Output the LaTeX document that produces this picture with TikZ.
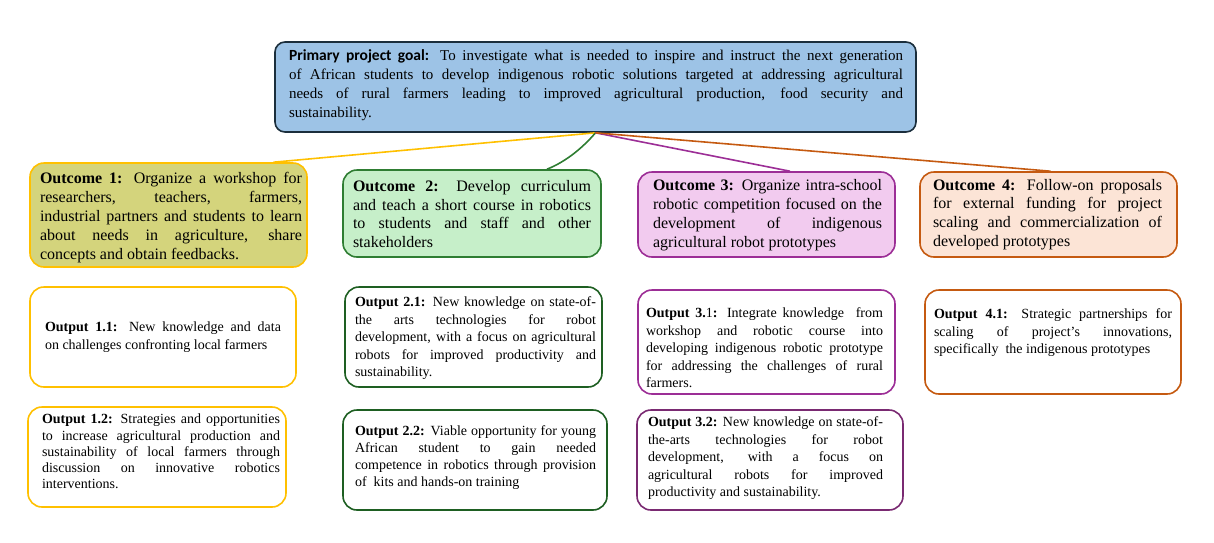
\documentclass[tikz,border=0pt]{standalone}
\usepackage{fontspec}
\setmainfont{Liberation Serif}
\newfontfamily\goalfont{Carlito}
\definecolor{goalfill}{HTML}{9DC3E6}
\definecolor{goaldraw}{HTML}{1B2E3C}
\definecolor{c1fill}{HTML}{D4D47C}
\definecolor{c1draw}{HTML}{FFC000}
\definecolor{c2fill}{HTML}{C6EFC9}
\definecolor{c2draw}{HTML}{2E7D32}
\definecolor{c2dark}{HTML}{1E5F22}
\definecolor{c3fill}{HTML}{F2CBEF}
\definecolor{c3draw}{HTML}{9C2E96}
\definecolor{c3dark}{HTML}{7A2A72}
\definecolor{c4fill}{HTML}{FCE4D6}
\definecolor{c4draw}{HTML}{C55A11}
\tikzset{
  boxshape/.style={draw, rounded corners=14pt, line width=1.6pt, inner sep=0pt},
  goaltxt/.style={inner sep=0pt, align=justify, font=\fontsize{15}{19}\selectfont},
  outctxt/.style={inner sep=0pt, align=justify, font=\fontsize{16}{18.8}\selectfont},
  outptxt/.style={inner sep=0pt, align=justify, font=\fontsize{14}{17.5}\selectfont},
  link/.style={line width=1.6pt}
}
\begin{document}
\begin{tikzpicture}[x=1pt,y=-1pt]
\useasboundingbox (0,0) rectangle (1214,542);
% goal
\node[boxshape, rounded corners=10pt, fill=goalfill, draw=goaldraw, minimum width=641pt, minimum height=90pt] (goal) at (595.5,87) {};
\node[goaltxt, text width=614pt] (goalt) at (596,85) {{\goalfont\bfseries\fontsize{15.5}{19}\selectfont Primary project goal:} To investigate what is needed to inspire and instruct the next generation\linebreak of African students to develop indigenous robotic solutions targeted at addressing agricultural\linebreak needs of rural farmers leading to improved agricultural production, food security and\linebreak sustainability.};
% outcomes
\node[boxshape, fill=c1fill, draw=c1draw, minimum width=277pt, minimum height=104pt] (oc1) at (168.5,215) {};
\node[outctxt, text width=262pt] (oc1t) at (171,217.5) {\textbf{Outcome 1:} Organize a workshop for\linebreak researchers, teachers, farmers,\linebreak industrial partners and students to learn\linebreak about needs in agriculture, share\linebreak concepts and obtain feedbacks.};
\node[boxshape, fill=c2fill, draw=c2draw, minimum width=258pt, minimum height=87pt] (oc2) at (472,213.5) {};
\node[outctxt, text width=238pt] (oc2t) at (472,214) {\textbf{Outcome 2:} Develop curriculum\linebreak and teach a short course in robotics\linebreak to students and staff and other\linebreak stakeholders};
\node[boxshape, fill=c3fill, draw=c3draw, minimum width=257pt, minimum height=85pt] (oc3) at (766.5,214.5) {};
\node[outctxt, text width=229pt] (oc3t) at (767.5,215) {\textbf{Outcome 3:} Organize intra-school\linebreak robotic competition focused on the\linebreak development of indigenous\linebreak agricultural robot prototypes};
\node[boxshape, fill=c4fill, draw=c4draw, minimum width=257pt, minimum height=85pt] (oc4) at (1048.5,214.5) {};
\node[outctxt, text width=229pt] (oc4t) at (1047.5,214.5) {\textbf{Outcome 4:} Follow-on proposals\linebreak for external funding for project\linebreak scaling and commercialization of\linebreak developed prototypes};
% outputs row 1
\node[boxshape, fill=white, draw=c1draw, minimum width=266pt, minimum height=100pt] (b11) at (163,337) {};
\node[outptxt, text width=236pt] (t11) at (163,337) {\textbf{Output 1.1:} New knowledge and data\linebreak on challenges confronting local farmers};
\node[boxshape, fill=white, draw=c2dark, minimum width=257pt, minimum height=100pt] (b21) at (473.5,337) {};
\node[outptxt, text width=241pt] (t21) at (475.5,338.5) {\textbf{Output 2.1:} New knowledge on state-of-\linebreak the arts technologies for robot\linebreak development, with a focus on agricultural\linebreak robots for improved productivity and\linebreak sustainability.};
\node[boxshape, fill=white, draw=c3draw, minimum width=257pt, minimum height=104pt] (b31) at (766.5,342) {};
\node[outptxt, text width=237pt] (t31) at (764.5,348) {\textbf{Output 3.}1\textbf{:} Integrate knowledge\ \ from\linebreak workshop and robotic course into\linebreak developing indigenous robotic prototype\linebreak for addressing the challenges of rural\linebreak farmers.};
\node[boxshape, fill=white, draw=c4draw, minimum width=256pt, minimum height=104pt] (b41) at (1053,342) {};
\node[outptxt, text width=238pt] (t41) at (1053,333) {\textbf{Output 4.1:} Strategic partnerships for\linebreak scaling of project’s innovations,\linebreak specifically\ \ the indigenous prototypes};
% outputs row 2
\node[boxshape, fill=white, draw=c1draw, minimum width=258pt, minimum height=100pt] (b12) at (157,457) {};
\node[outptxt, text width=238pt, font=\fontsize{14}{16.2}\selectfont] (t12) at (161,451.5) {\textbf{Output 1.2:} Strategies and opportunities\linebreak to increase agricultural production and\linebreak sustainability of local farmers through\linebreak discussion on innovative robotics\linebreak interventions.};
\node[boxshape, fill=white, draw=c2dark, minimum width=264pt, minimum height=100pt] (b22) at (475,460) {};
\node[outptxt, text width=241pt, font=\fontsize{14}{17}\selectfont] (t22) at (475.5,457.5) {\textbf{Output 2.2:} Viable opportunity for young\linebreak\ African student to gain needed\linebreak competence in robotics through provision\linebreak of\ \ kits and hands-on training};
\node[boxshape, fill=white, draw=c3dark, minimum width=266pt, minimum height=100pt] (b32) at (770,460) {};
\node[outptxt, text width=235pt] (t32) at (765.5,458.5) {\textbf{Output 3.2:} New knowledge on state-of-\linebreak the-arts technologies for robot\linebreak development, with a focus on\linebreak agricultural robots for improved\linebreak productivity and sustainability.};
% connectors
\draw[link, draw=c1draw] (goal.south) -- ([xshift=105pt]oc1.north);
\draw[link, draw=c2draw] (goal.south) .. controls ([xshift=-12pt,yshift=-14pt]goal.south) and ([xshift=95pt,yshift=8pt]oc2.north) .. ([xshift=75pt]oc2.north);
\draw[link, draw=c3draw] (goal.south) -- ([xshift=23.5pt]oc3.north);
\draw[link, draw=c4draw] (goal.south) -- ([xshift=2pt]oc4.north);
\end{tikzpicture}
\end{document}
